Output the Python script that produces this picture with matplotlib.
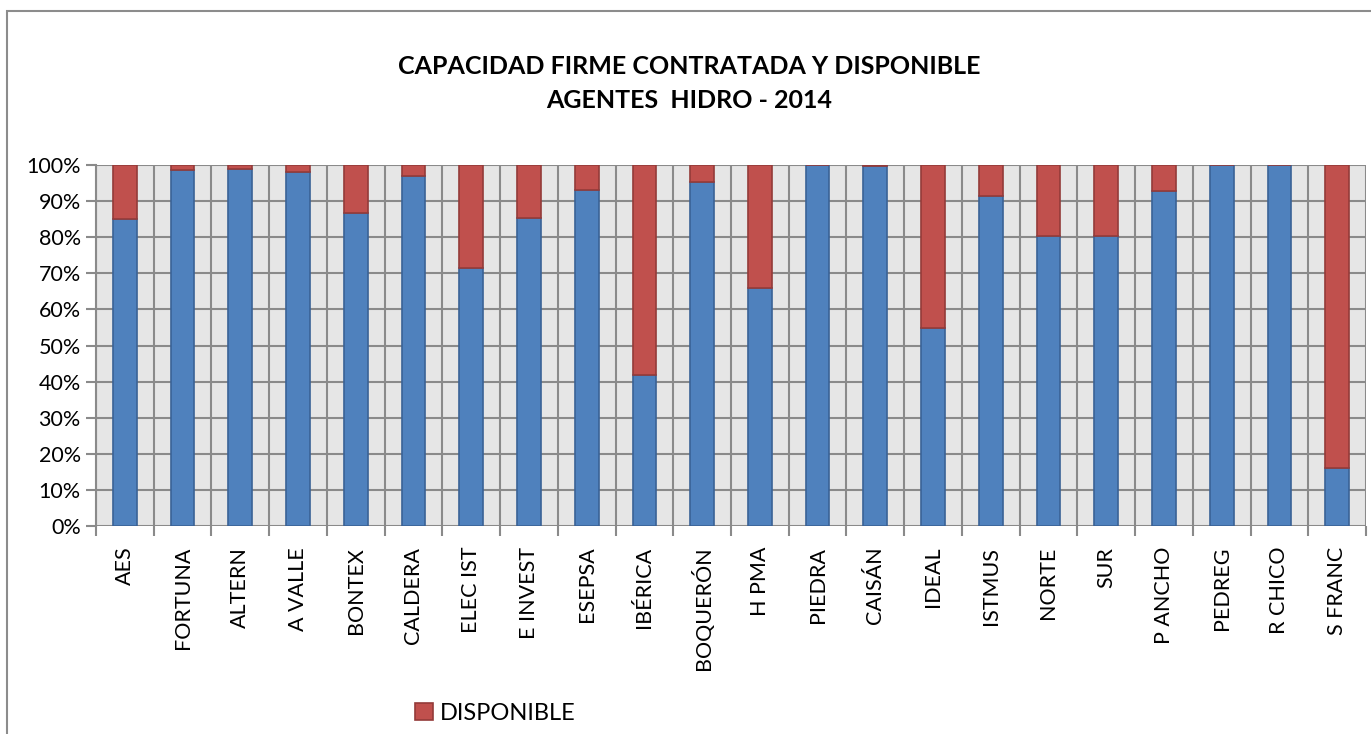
import matplotlib.pyplot as plt
import matplotlib.patches as mpatches
import numpy as np

plt.rcParams["font.family"] = ["Lato", "DejaVu Sans"]

agentes = [
    "AES", "FORTUNA", "ALTERN", "A VALLE", "BONTEX", "CALDERA", "ELEC IST",
    "E INVEST", "ESEPSA", "IBÉRICA", "BOQUERÓN", "H PMA", "PIEDRA", "CAISÁN",
    "IDEAL", "ISTMUS", "NORTE", "SUR", "P ANCHO", "PEDREG", "R CHICO", "S FRANC",
]
# percent of firm capacity contracted (the rest is available)
contratada = [
    85.0, 98.5, 98.8, 98.0, 86.7, 97.0, 71.4,
    85.4, 93.1, 41.7, 95.3, 66.0, 100.0, 99.6,
    54.8, 91.3, 80.4, 80.4, 92.8, 100.0, 100.0, 16.0,
]
disponible = [100 - c for c in contratada]

blue, blue_edge = "#4F81BD", "#3A6296"
red, red_edge = "#C0504D", "#943B39"

fig = plt.figure(figsize=(13.71, 7.34), dpi=100)
ax = fig.add_axes([96 / 1371, 1 - 526 / 734, 1270 / 1371, 361 / 734])

# outer chart border
fig.add_artist(mpatches.Rectangle((7 / 1371, -0.1), 1.2, 1 - 11 / 734 + 0.1,
                                  transform=fig.transFigure, fill=False,
                                  edgecolor="#8C8C8C", linewidth=1.5))

x = np.arange(len(agentes))
w = 0.41
ax.bar(x, contratada, w, color=blue, edgecolor=blue_edge, linewidth=1.2,
       label="CONTRATADA", zorder=3)
ax.bar(x, disponible, w, bottom=contratada, color=red, edgecolor=red_edge,
       linewidth=1.2, label="DISPONIBLE", zorder=3)

ax.set_facecolor("#E6E6E6")
ax.set_xlim(-0.5, len(agentes) - 0.5)
ax.set_ylim(0, 100)
ax.set_yticks(np.arange(0, 101, 10))
ax.set_yticklabels([f"{v}%" for v in range(0, 101, 10)], fontsize=15.5)
ax.yaxis.grid(True, color="#8A8A8A", linewidth=1.5, zorder=1)
for b in np.arange(-0.5, len(agentes), 1.0):
    ax.axvline(b, color="#8A8A8A", linewidth=1.5, zorder=1)

ax.set_xticks(x)
ax.set_xticklabels(agentes, rotation=90, fontsize=15.5, va="top")
ax.tick_params(axis="x", length=0, pad=15)
ax.tick_params(axis="y", length=7, color="#8A8A8A", width=1.5, pad=4)
ax.set_xticks(np.arange(-0.5, len(agentes), 1.0), minor=True)
ax.tick_params(axis="x", which="minor", length=7, color="#8A8A8A", width=1.5)

for s in ax.spines.values():
    s.set_visible(False)
ax.spines["left"].set_visible(True)
ax.spines["left"].set_color("#8A8A8A")
ax.spines["left"].set_linewidth(1.5)

fig.text(0.503, 1 - 66 / 734, "CAPACIDAD FIRME CONTRATADA Y DISPONIBLE",
         ha="center", va="center", fontsize=18, fontweight="bold")
fig.text(0.503, 1 - 101 / 734, "AGENTES  HIDRO - 2014",
         ha="center", va="center", fontsize=18, fontweight="bold")

h = mpatches.Patch(facecolor=red, edgecolor=red_edge, linewidth=1.2)
fig.legend([h], ["DISPONIBLE"], loc="center left",
           bbox_to_anchor=(394 / 1371, 1 - 713 / 734), frameon=False,
           fontsize=17, handlelength=0.75, handleheight=0.75, handletextpad=0.3)

fig.savefig("out.png", dpi=100)
